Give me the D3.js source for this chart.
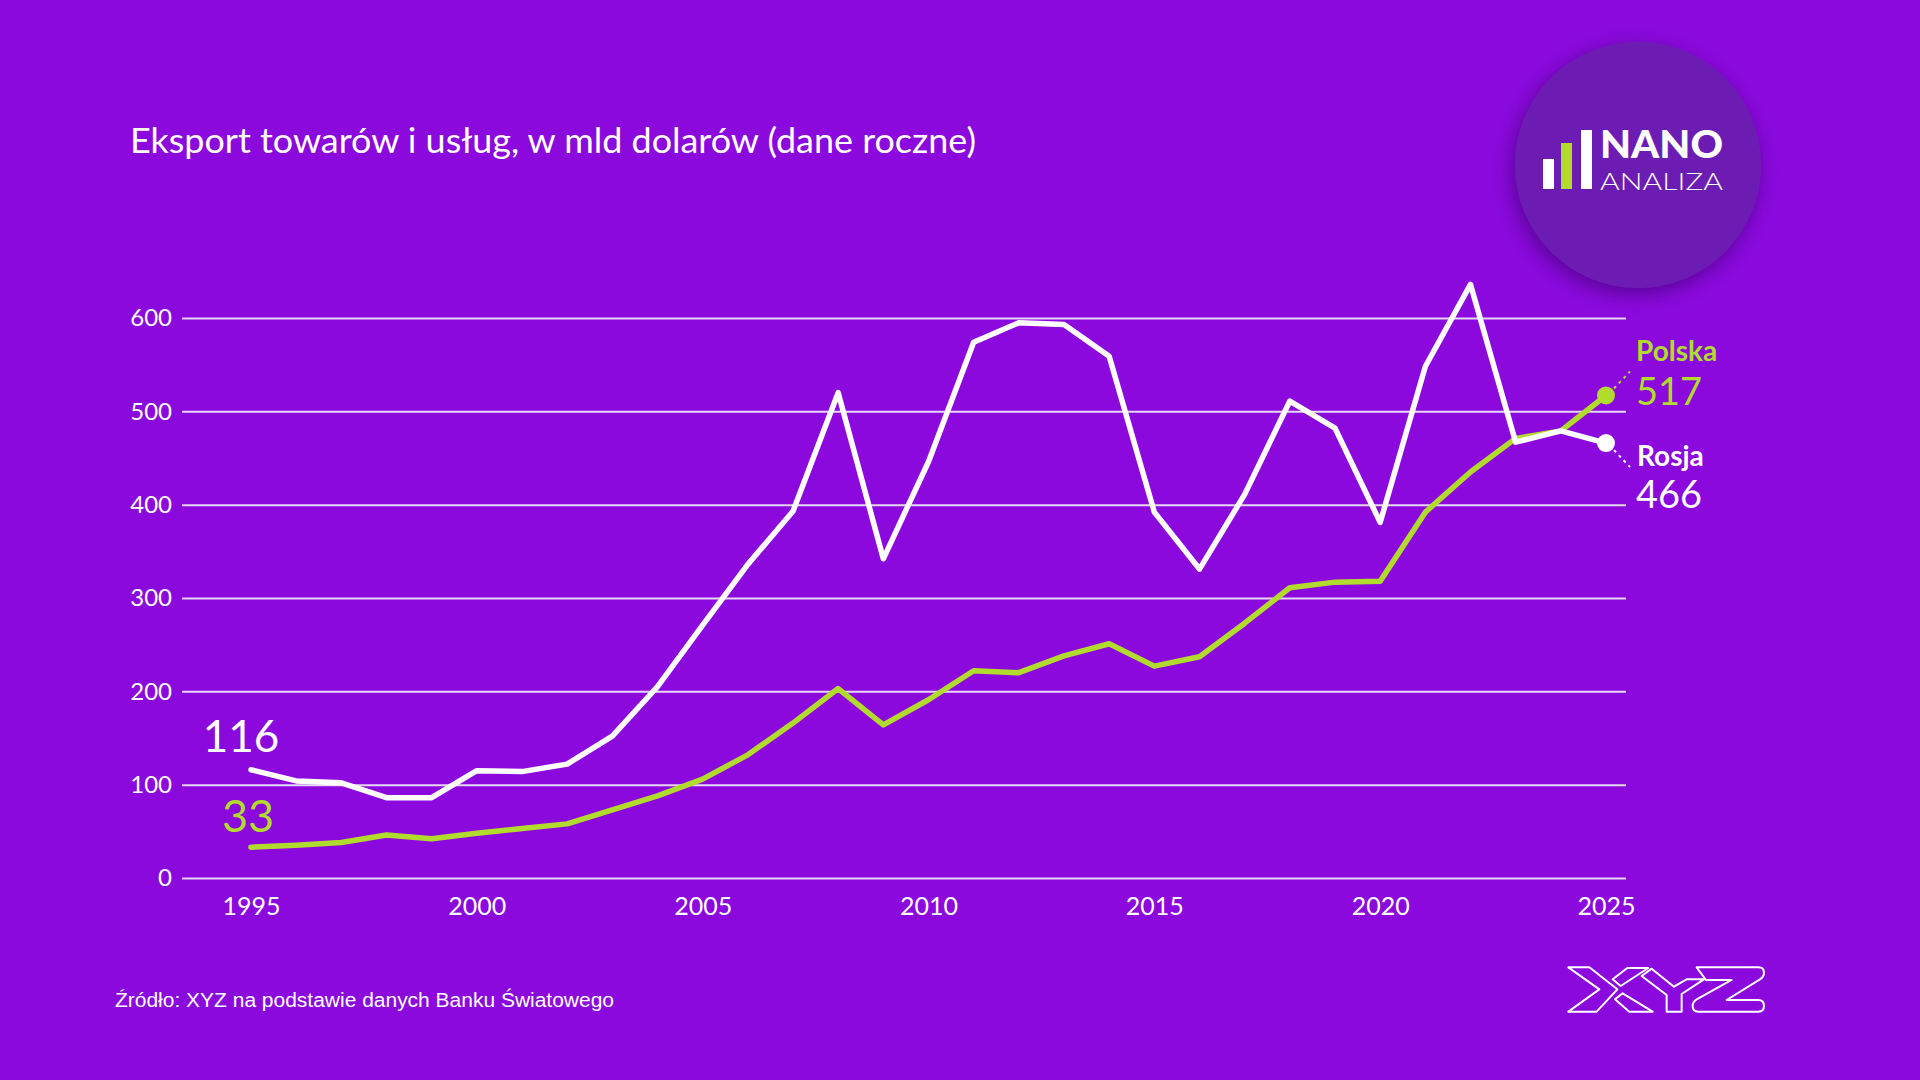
<!DOCTYPE html>
<html>
<head>
<meta charset="utf-8">
<script src="https://cdn.jsdelivr.net/npm/d3@7"></script>
<style>
  html, body { margin: 0; padding: 0; background: #8b09dd; }
  svg { display: block; }
</style>
</head>
<body>
<svg id="chart" width="1920" height="1080"></svg>
<script>
// dane roczne, mld USD
var years = d3.range(1995, 2026);
var polska = [33, 35, 38, 46, 42, 48, 53, 58, 73, 88, 106, 132, 166, 203, 164, 191, 222, 220, 238, 251,
              227, 237, 273, 311, 317, 318, 392, 435, 471, 479, 517];
var rosja  = [116, 104, 102, 86, 86, 115, 114, 122, 152, 205, 271, 336, 393, 520, 342, 446, 574, 595, 593, 559,
              392, 331, 411, 511, 482, 381, 548, 636, 467, 479, 466];
var yTicks = [0, 100, 200, 300, 400, 500, 600];
var xTicks = [1995, 2000, 2005, 2010, 2015, 2020, 2025];

var green = "#b1dc2e";
var svg = d3.select("#chart");

var x = d3.scaleLinear().domain([1995, 2025]).range([251, 1606]);
var y = d3.scaleLinear().domain([0, 600]).range([878, 318]);

// tlo
svg.append("rect").attr("width", 1920).attr("height", 1080).attr("fill", "#8b09dd");

var defs = svg.append("defs");
var f = defs.append("filter").attr("id", "shadow")
  .attr("x", "-30%").attr("y", "-30%").attr("width", "160%").attr("height", "160%");
f.append("feDropShadow").attr("dx", -3).attr("dy", 6).attr("stdDeviation", 10)
  .attr("flood-color", "#3a006e").attr("flood-opacity", 0.65);

// tytul
svg.append("text")
  .attr("x", 130).attr("y", 153)
  .attr("textLength", 846).attr("lengthAdjust", "spacingAndGlyphs")
  .style("font-family", "Lato").style("font-size", "35px").attr("fill", "#fff")
  .text("Eksport towarów i usług, w mld dolarów (dane roczne)");

// siatka + os Y
var yAxis = svg.append("g")
  .attr("transform", "translate(182,0)")
  .call(d3.axisLeft(y).tickValues(yTicks).tickSize(-(1626 - 182)).tickPadding(10));
yAxis.select(".domain").remove();
yAxis.selectAll("line").attr("stroke", "#e8d6f6").attr("stroke-width", 2);
yAxis.selectAll("text").attr("fill", "#fff")
  .style("font-family", "Lato").style("font-size", "24px");

// os X
var xAxis = svg.append("g")
  .attr("transform", "translate(0,878)")
  .call(d3.axisBottom(x).tickValues(xTicks).tickFormat(d3.format("d")).tickSize(0).tickPadding(19));
xAxis.select(".domain").remove();
xAxis.selectAll("text").attr("fill", "#fff")
  .style("font-family", "Lato").style("font-size", "25px");

// linie
var line = d3.line().x(function(d, i) { return x(years[i]); }).y(function(d) { return y(d); });

svg.append("path").datum(polska)
  .attr("d", line).attr("fill", "none").attr("stroke", green)
  .attr("stroke-width", 5.5).attr("stroke-linejoin", "round").attr("stroke-linecap", "round");
svg.append("path").datum(rosja)
  .attr("d", line).attr("fill", "none").attr("stroke", "#fff")
  .attr("stroke-width", 5.5).attr("stroke-linejoin", "round").attr("stroke-linecap", "round");

var last = years.length - 1;
svg.append("circle").attr("cx", x(years[last])).attr("cy", y(polska[last])).attr("r", 9).attr("fill", green);
svg.append("circle").attr("cx", x(years[last])).attr("cy", y(rosja[last])).attr("r", 9).attr("fill", "#fff");

// odnosniki do etykiet
svg.append("line")
  .attr("x1", x(years[last]) + 8).attr("y1", y(polska[last]) - 7)
  .attr("x2", x(years[last]) + 24).attr("y2", y(polska[last]) - 24)
  .attr("stroke", green).attr("stroke-width", 2).attr("stroke-dasharray", "3,4");
svg.append("line")
  .attr("x1", x(years[last]) + 8).attr("y1", y(rosja[last]) + 7)
  .attr("x2", x(years[last]) + 24).attr("y2", y(rosja[last]) + 24)
  .attr("stroke", "#fff").attr("stroke-width", 2).attr("stroke-dasharray", "3,4");

// etykiety koncowe
svg.append("text").attr("x", 1636).attr("y", 361).attr("fill", green)
  .style("font-family", "Lato").style("font-weight", "700").style("font-size", "28px").text("Polska");
svg.append("text").attr("x", 1636).attr("y", 405).attr("fill", green)
  .style("font-family", "Lato").style("font-size", "38px").text(polska[last]);
svg.append("text").attr("x", 1637).attr("y", 466).attr("fill", "#fff")
  .style("font-family", "Lato").style("font-weight", "700").style("font-size", "28px").text("Rosja");
svg.append("text").attr("x", 1636).attr("y", 508).attr("fill", "#fff")
  .style("font-family", "Lato").style("font-size", "38px").text(rosja[last]);

// etykiety poczatkowe
svg.append("text").attr("x", 241).attr("y", 752).attr("text-anchor", "middle").attr("fill", "#fff")
  .style("font-family", "Lato").style("font-size", "44px").text(rosja[0]);
svg.append("text").attr("x", 248).attr("y", 832).attr("text-anchor", "middle").attr("fill", green)
  .style("font-family", "Lato").style("font-size", "45px").text(polska[0]);

// zrodlo
svg.append("text").attr("x", 115).attr("y", 1007).attr("fill", "#fff")
  .attr("textLength", 499).attr("lengthAdjust", "spacingAndGlyphs")
  .style("font-family", "Liberation Sans").style("font-size", "20px")
  .text("Źródło: XYZ na podstawie danych Banku Światowego");

// logo NANO ANALIZA
var logo = svg.append("g");
logo.append("circle").attr("cx", 1638).attr("cy", 165).attr("r", 123)
  .attr("fill", "#6c1fb2").attr("filter", "url(#shadow)");
logo.append("rect").attr("x", 1543).attr("y", 159).attr("width", 11).attr("height", 30).attr("fill", "#fff");
logo.append("rect").attr("x", 1561).attr("y", 143).attr("width", 11).attr("height", 46).attr("fill", green);
logo.append("rect").attr("x", 1581).attr("y", 130).attr("width", 11).attr("height", 59).attr("fill", "#fff");
logo.append("text").attr("x", 1600).attr("y", 158).attr("textLength", 123).attr("lengthAdjust", "spacingAndGlyphs")
  .attr("fill", "#fff").style("font-family", "Lato").style("font-weight", "900").style("font-size", "38px").text("NANO");
logo.append("text").attr("x", 1600).attr("y", 190).attr("textLength", 123).attr("lengthAdjust", "spacingAndGlyphs")
  .attr("fill", "#fff").style("font-family", "Lato").style("font-weight", "300").style("font-size", "24px").text("ANALIZA");

// logo XYZ (kontur)
var xyz = svg.append("g").attr("transform", "translate(1500,940) scale(0.3333)")
  .attr("fill", "none").attr("stroke", "#fff").attr("stroke-width", 6).attr("stroke-linejoin", "round");
xyz.append("path").attr("d", "M205,82 L268,82 L352,148 L290,215 L205,215 L298,148 Z");
xyz.append("path").attr("d", "M338,118 L382,84 L445,84 L362,138 Z");
xyz.append("path").attr("d", "M345,178 L368,160 L458,215 L388,215 Z");
xyz.append("path").attr("d", "M425,108 L455,86 L522,140 L560,118 L612,118 L545,162 L545,215 L500,215 L500,165 Z");
xyz.append("path").attr("d", "M590,82 L775,82 Q792,82 792,98 Q792,110 780,118 L680,180 L775,180 Q792,180 792,198 Q792,215 775,215 L595,215 Q578,215 578,198 Q578,185 590,178 L695,120 L618,120 Z");
</script>
</body>
</html>
